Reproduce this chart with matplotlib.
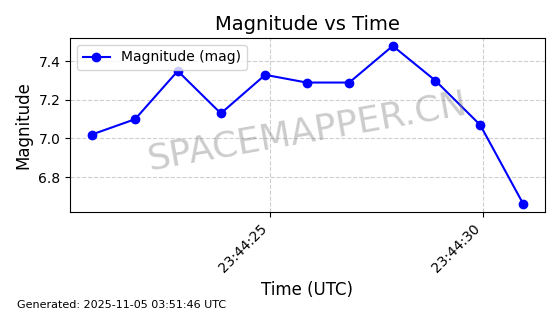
import matplotlib
matplotlib.use("Agg")
import matplotlib.pyplot as plt
import matplotlib.dates as mdates
import numpy as np
from datetime import datetime, timedelta

# secondi dopo 23:44:00 e magnitudini
secondi = [20.82, 21.84, 22.84, 23.85, 24.89, 25.86, 26.86, 27.88, 28.88, 29.93, 30.94]
magnitudine = [7.02, 7.10, 7.35, 7.13, 7.33, 7.29, 7.29, 7.48, 7.30, 7.07, 6.66]
generato = "Generated: 2025-11-05 03:51:46 UTC"

base = datetime(2025, 11, 4, 23, 44, 0)
tempi = [base + timedelta(seconds=s) for s in secondi]

fig = plt.figure(figsize=(5.6, 3.14), dpi=100)
ax = fig.add_subplot(111)
fig.subplots_adjust(left=0.125, right=0.973, top=0.879, bottom=0.325)

ax.plot(tempi, magnitudine, "o-", color="blue", markersize=6, linewidth=1.5, label="Magnitude (mag)")

ax.xaxis.set_major_locator(mdates.SecondLocator(bysecond=range(0, 60, 5)))
ax.xaxis.set_major_formatter(mdates.DateFormatter("%H:%M:%S"))
plt.setp(ax.get_xticklabels(), rotation=45, ha="right")

ax.set_title("Magnitude vs Time", fontsize=14)
ax.set_xlabel("Time (UTC)", fontsize=12)
ax.set_ylabel("Magnitude", fontsize=12)
ax.grid(True, linestyle="--", alpha=0.6)
ax.legend(loc="upper left")

# watermark
ax.text(0.5, 0.46, "SPACEMAPPER.CN", transform=ax.transAxes, fontsize=26,
        color="gray", alpha=0.4, rotation=10, ha="center", va="center", zorder=10)

fig.text(0.03, 0.02, generato, fontsize=8)

fig.savefig("out.png", dpi=100)
